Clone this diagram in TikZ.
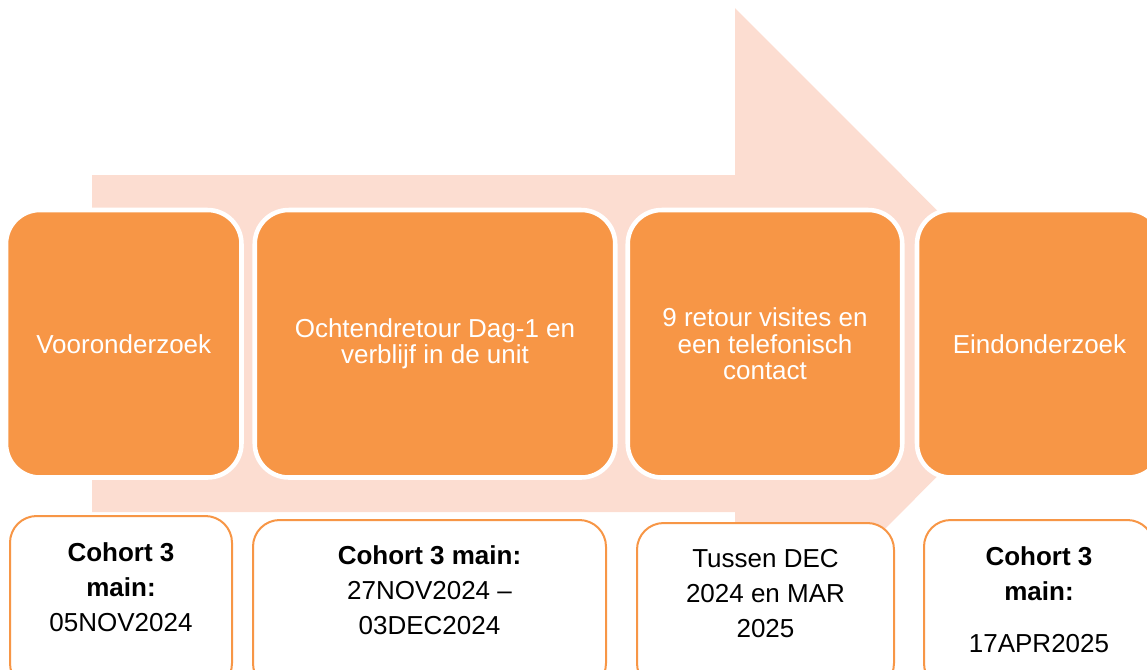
\documentclass[tikz,border=0pt]{standalone}
\usepackage{fontspec}
\setmainfont{Liberation Sans}
\usepackage{xcolor}
\definecolor{phaseorange}{HTML}{F79646}
\definecolor{arrowpink}{HTML}{FCDDD1}
\newcommand{\px}{0.75pt}

\begin{document}
\begin{tikzpicture}[x=0.75pt, y=-0.75pt,
    phase/.style={draw=white, line width=3.4pt, fill=phaseorange, rounded corners=25.5pt,
        minimum height=267.5*\px, inner sep=0pt, align=center, text=white,
        font=\fontsize{19.5}{20}\selectfont},
    datebox/.style={draw=phaseorange, line width=1.5pt, fill=white, rounded corners=20pt, inner sep=0pt},
    datetext/.style={align=center, inner sep=0pt, font=\fontsize{19.5}{26.25}\selectfont}]
    \useasboundingbox (0,0) rectangle (1147,669);
    \clip (0,0) rectangle (1147,669);
    % big arrow behind the phases
    \fill[arrowpink] (92,175) -- (735,175) -- (735,8) -- (1070,343.5) -- (735,679) -- (735,512) -- (92,512) -- cycle;
    % phases
    \node[phase, minimum width=235.5*\px] (pre) at (123.75,343.75) {Vooronderzoek};
    \node[phase, minimum width=360.5*\px] (stay) at (435,343.75) {Ochtendretour Dag-1 en\\verblijf in de unit};
    \node[phase, minimum width=274.5*\px] (visits) at (765,343.75) {9 retour visites en\\een telefonisch\\contact};
    \node[phase, minimum width=245*\px] (final) at (1039.5,343.75) {Eindonderzoek};
    % dates
    \node[datebox, minimum width=222*\px, minimum height=174*\px] (preDate) at (121,603) {};
    \node[datebox, minimum width=353*\px, minimum height=170*\px] (stayDate) at (429.5,605) {};
    \node[datebox, minimum width=257*\px, minimum height=167*\px] (visitsDate) at (765.5,606.5) {};
    \node[datebox, minimum width=230*\px, minimum height=170*\px] (finalDate) at (1039,605) {};
    \node[datetext] (preText) at (121,587) {\textbf{Cohort 3}\\\textbf{main:}\\05NOV2024};
    \node[datetext] (stayText) at (429.5,590) {\textbf{Cohort 3 main:}\\27NOV2024 \textendash\\03DEC2024};
    \node[datetext] (visitsText) at (765.5,594) {Tussen DEC\\2024 en MAR\\2025};
    \node[datetext] (finalText) at (1039,599.5) {\textbf{Cohort 3}\\\textbf{main:}\\[12.75pt]17APR2025};
\end{tikzpicture}
\end{document}
